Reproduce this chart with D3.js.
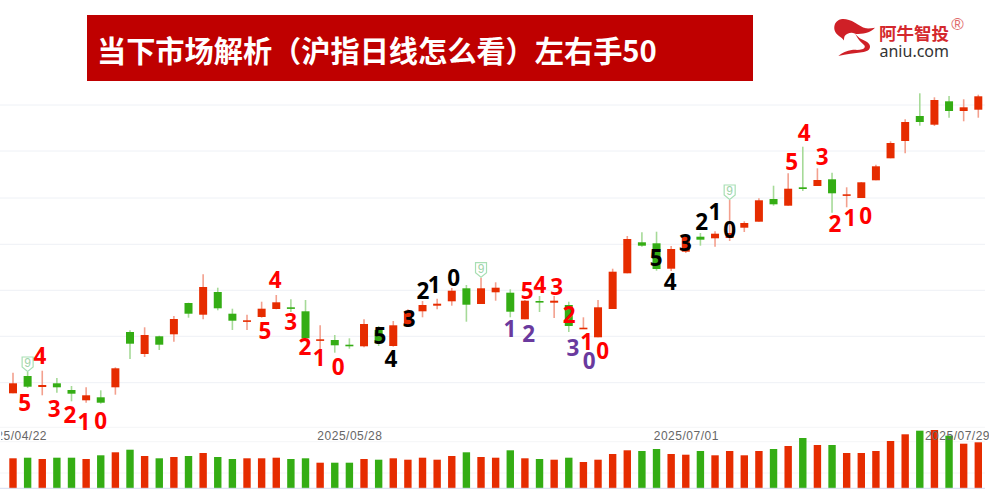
<!DOCTYPE html>
<html><head><meta charset="utf-8">
<style>html,body{margin:0;padding:0;background:#fff;overflow:hidden}svg{display:block}</style>
<script src="https://cdnjs.cloudflare.com/ajax/libs/d3/7.8.5/d3.min.js"></script>
</head><body><svg id="c" width="989" height="499"></svg>
<script>
const titleText = "当下市场解析（沪指日线怎么看）左右手50";
const opens = [3306.7,3324,3313,3316.7,3310,3299.7,3302.7,3312.7,3368,3346,3363.7,3365.7,3397,3385.3,3408,3386.3,3378.3,3383,3391,3392.7,3388.7,3359.7,3360,3355.3,3353.7,3370,3354,3375,3388.7,3394.3,3398.7,3411.7,3396,3407.7,3407.3,3380.7,3399,3397.3,3395,3371,3362.7,3391,3426.7,3457.7,3456.7,3431.3,3448.3,3463.3,3461.7,3462,3472.3,3478.3,3501,3494.3,3512.7,3514,3520.7,3504.7,3502,3519.7,3541.7,3559,3584,3575.3,3598.7,3589,3590.3];
const closes = [3316.7,3313.3,3315,3312.7,3306.3,3304.7,3297.3,3331.7,3356.3,3365,3355.3,3381,3386.3,3413,3391.7,3379.3,3379.7,3391.3,3397.7,3391.3,3361.7,3360.7,3354.7,3354.3,3376,3356.7,3374.7,3388.3,3395,3396.3,3409.3,3395.3,3411.7,3412.3,3388.3,3399.3,3398,3399.3,3374,3372.3,3392.7,3428.3,3461,3454.3,3431,3451,3463.3,3460.3,3466.3,3467,3477,3499.7,3495.7,3511.3,3511,3520,3506.7,3505.7,3517.7,3533.7,3557,3578,3578,3600,3589,3592.7,3603.7];
const highs = [3327.3,3328,3329.3,3322,3314,3312.7,3309.7,3332.7,3369.7,3372.7,3364.3,3384,3397.3,3425.7,3412.3,3391.3,3385.3,3398.3,3405,3400.7,3400,3374.7,3365,3361.7,3380.7,3374,3379,3390.7,3399,3401.3,3412,3415,3422.3,3417.7,3410.7,3400,3404,3404,3398.3,3382.7,3400,3431.3,3464,3467.7,3468.3,3454,3466,3467,3468.7,3500,3478.7,3501.7,3514.3,3526.7,3553.3,3531.7,3527.3,3512.7,3518,3535.3,3558.7,3580.7,3606.7,3602.7,3604,3600.7,3605.3];
const lows = [3306.7,3312,3304.7,3307.3,3298.7,3297.3,3296.3,3305.3,3341,3343,3350,3358.3,3382.3,3380.7,3389.7,3370,3370,3382.3,3390.7,3388,3361.7,3351,3347.3,3351.3,3352.7,3354,3353.3,3373.3,3382.7,3390.7,3394.3,3378.3,3396,3399.3,3382.7,3380.7,3388,3382,3368,3371,3362.7,3391,3426.7,3453.3,3429.3,3429,3447,3454.3,3453.3,3459,3468,3478.3,3494.3,3494.3,3509,3514,3487.3,3492.7,3502,3519.7,3541.7,3546.7,3574.3,3574,3582.3,3578.7,3582.3];
const volumes = [300,306,293,306,306,293,330,360,386,323,300,313,323,353,313,293,300,300,306,293,300,256,256,256,293,286,300,286,306,286,323,360,313,306,380,300,293,286,306,263,286,343,380,373,393,343,336,373,330,373,330,373,393,423,503,433,433,353,353,373,473,540,576,583,526,446,460];
const priceGrid = [3595,3549,3502,3455.7,3409.7,3363.7,3317.3];
const volumeGrid = [610,466,153];
const tickIndex = [0,23,46,66];
const tickLabels = ["2025/04/22","2025/05/28","2025/07/01","2025/07/29"];
const nineIndex = [1,32,49];
const annText = ["5","4","3","2","1","0","5","4","3","2","1","0","5","4","3","2","1","0","1","2","5","4","3","2","3","1","0","0","5","4","3","2","1","0","5","4","3","2","1","0"];
const annKind = ["r","r","r","r","r","r","r","r","r","r","r","r","k","k","k","k","k","k","p","p","r","r","r","r","p","r","p","r","k","k","k","k","k","k","r","r","r","r","r","r"];
const annIndex = [0.80,1.85,2.82,3.90,4.85,6.0,17.23,17.93,18.99,19.96,20.94,22.24,25.09,25.84,27.09,28.03,28.80,30.13,33.98,35.26,35.16,36.03,37.17,38.03,38.29,39.22,39.40,40.32,43.98,44.94,45.97,47.09,48.0,49.0,53.24,54.10,55.32,56.20,57.22,58.30];
const annPrice = [3296.7,3344,3290.7,3285.3,3278,3279,3369.3,3420,3377.7,3353.3,3341.7,3333.3,3364,3341.3,3381,3408.7,3415,3421.7,3371,3366.3,3409,3415,3412.7,3385,3352.3,3358.3,3339,3349.3,3441.7,3418.3,3456.7,3478.3,3487.7,3470,3537.7,3566.7,3543.3,3475.7,3482.3,3484];

const RED="#e62c00", GREEN="#34ad14";
const kindColor={r:"#ff0000",k:"#000000",p:"#6a3a9e"};
const svg=d3.select("#c");
const x=d3.scaleLinear().domain([0,66]).range([13,978.3]);
const y=d3.scaleLinear().domain([3200,3700]).range([500,0]);
const v=d3.scaleLinear().domain([0,1000]).range([488.3,388.3]);
const idx=d3.range(opens.length);
const col=i=>closes[i]>=opens[i]?RED:GREEN;
const wickCol=i=>closes[i]>=opens[i]?"#f3a08e":"#a6da98";

svg.append("defs").append("clipPath").attr("id","labelClip").append("rect")
 .attr("x",1.2).attr("y",420).attr("width",990).attr("height",40);

// grid
svg.append("g").selectAll("line").data(priceGrid).join("line")
 .attr("x1",0).attr("x2",985).attr("y1",d=>y(d)).attr("y2",d=>y(d))
 .attr("stroke","#eef1f6").attr("stroke-width",1);
svg.append("g").selectAll("line").data(volumeGrid).join("line")
 .attr("x1",0).attr("x2",985).attr("y1",d=>v(d)).attr("y2",d=>v(d))
 .attr("stroke","#f4f5f7").attr("stroke-width",1);

// volume
svg.append("g").selectAll("rect").data(idx).join("rect")
 .attr("x",i=>x(i)-3.7).attr("width",7.4)
 .attr("y",i=>v(volumes[i])).attr("height",i=>v(0)-v(volumes[i]))
 .attr("fill",col);
svg.append("line").attr("x1",0).attr("x2",985).attr("y1",v(0)).attr("y2",v(0)).attr("stroke","#d5dcf0").attr("stroke-width",1);

// candles
svg.append("g").selectAll("line").data(idx).join("line")
 .attr("x1",i=>x(i)).attr("x2",i=>x(i)).attr("y1",i=>y(highs[i])).attr("y2",i=>y(lows[i]))
 .attr("stroke",wickCol).attr("stroke-width",1.6);
svg.append("g").selectAll("rect").data(idx).join("rect")
 .attr("x",i=>x(i)-4).attr("width",8)
 .attr("y",i=>y(Math.max(opens[i],closes[i])))
 .attr("height",i=>Math.max(1.6,Math.abs(y(opens[i])-y(closes[i]))))
 .attr("fill",col);

// nine markers
const nine=svg.append("g").selectAll("g").data(nineIndex).join("g")
 .attr("transform",i=>`translate(${x(i)},${y(highs[i])-0.5})`);
nine.append("path").attr("d","M-5.5,-14.5H5.5V-4.5L0,0L-5.5,-4.5Z")
 .attr("fill","#fff").attr("stroke","#a8dfb4").attr("stroke-width",1.2);
nine.append("text").text("9").attr("y",-4.5).attr("text-anchor","middle")
 .attr("font-family","Liberation Sans").attr("font-size",12).attr("fill","#a0d4aa");

// axis labels
const axis=d3.axisBottom(x).tickValues(tickIndex).tickFormat((d,i)=>tickLabels[i]).tickSize(0);
const ag=svg.append("g").attr("clip-path","url(#labelClip)").append("g").attr("transform","translate(0,428)").call(axis);
ag.select(".domain").remove();
ag.selectAll("text").attr("font-family","Liberation Sans").attr("font-size",12)
 .attr("letter-spacing",0.5).attr("fill","#666").attr("dy","0.71em").attr("y",3.5);
ag.selectAll(".tick").filter(d=>d===0).select("text").attr("x",1);
ag.selectAll(".tick").filter(d=>d===66).select("text").attr("text-anchor","end").attr("x",989-x(66)+0.5);

// annotations
svg.append("g").selectAll("text").data(annText).join("text")
 .text(d=>d).attr("x",(d,i)=>x(annIndex[i])).attr("y",(d,i)=>y(annPrice[i]))
 .attr("dy","0.36em").attr("text-anchor","middle")
 .attr("font-family","Noto Sans").attr("font-weight",700).attr("font-size",22.5)
 .attr("fill",(d,i)=>kindColor[annKind[i]]);

// title banner
svg.append("rect").attr("x",87).attr("y",15).attr("width",666).attr("height",66).attr("fill","#bf0000");
svg.append("text").text(titleText).attr("x",97).attr("y",61.5)
 .attr("font-family","Noto Sans CJK SC").attr("font-weight",700).attr("font-size",29.2)
 .attr("fill","#fff");

// logo
const logo=svg.append("g");
logo.append("path").attr("d","M834.3,26.7 C835,22 838,20 841,19.3 C845,18.5 850,20 855,22.7 C859,25 862,27.5 866,28.3 C869,28.7 872,28 875,27.7 C873,30 870.5,31.5 868.3,32.3 C865,33.6 862,34 858,34 C855.5,34 853.5,33 851.7,32.7 C849,32.6 846,34 844.7,36 C844,37.5 844,39 844,40.5 C842.5,38.5 841.5,37.5 840,36.7 C836.5,34.5 833.8,31 834.3,26.7Z").attr("fill","#cf2027");
logo.append("path").attr("d","M855,33.3 C857,36 859,38 861.7,39.3 C866,41.5 870,43 870,46.5 C870,50 867,51.5 862,52.3 C855,53.3 846,54 838.3,56 C842,52.5 847,50.8 851.7,50 C855,49.6 859,50.3 862,49.3 C865,48.4 865.5,46.5 864,45 C861.5,42.5 858,40 855,33.3Z").attr("fill","#cf2027");
logo.append("text").text("阿牛智投").attr("x",879).attr("y",39.5)
 .attr("font-family","Noto Sans CJK SC").attr("font-weight",700).attr("font-size",17.5).attr("fill","#d4282d");
logo.append("text").text("aniu.com").attr("x",879.5).attr("y",56.5)
 .attr("font-family","Noto Sans").attr("font-size",16).attr("fill","#333");
logo.append("text").text("®").attr("x",957.5).attr("y",30).attr("text-anchor","middle")
 .attr("font-family","Liberation Sans").attr("font-size",17).attr("fill","#e06a6a");
</script></body></html>
